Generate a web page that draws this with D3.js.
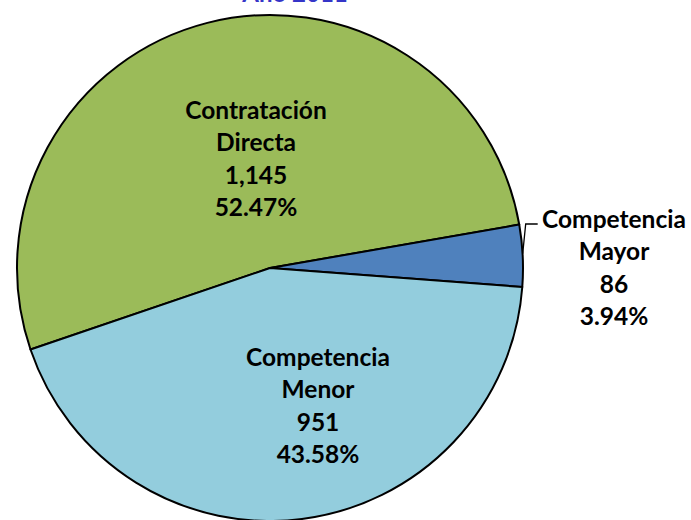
<!DOCTYPE html>
<html>
<head>
<meta charset="utf-8">
<script src="https://cdn.jsdelivr.net/npm/d3@7"></script>
<style>
  body { margin: 0; background: #fff; }
  text { font-family: Lato, "Open Sans", sans-serif; font-weight: bold; }
</style>
</head>
<body>
<div id="chart"></div>
<script>
// === DATA ===
const categories = ["Contratación Directa", "Competencia Mayor", "Competencia Menor"];
const labelLines = [["Contratación", "Directa"], ["Competencia", "Mayor"], ["Competencia", "Menor"]];
const counts = [1145, 86, 951];
const percents = ["52.47%", "3.94%", "43.58%"];
const colors = ["#9BBB59", "#4F81BD", "#93CDDD"];
const title = "Año 2011";

// === LAYOUT ===
const width = 691, height = 520;
const cx = 270, cy = 268, radius = 253;
const startDeg = 251.2; // first slice angle, clockwise from 12 o'clock

const svg = d3.select("#chart").append("svg")
    .attr("width", width)
    .attr("height", height);

svg.append("text")
    .attr("x", 295)
    .attr("y", 2)
    .attr("text-anchor", "middle")
    .attr("font-size", 24)
    .attr("fill", "#3535C8")
    .text(title);

const data = categories.map((c, i) => ({ name: c, lines: labelLines[i], value: counts[i], pct: percents[i], color: colors[i] }));

const start = startDeg * Math.PI / 180;
const pie = d3.pie()
    .value(d => d.value)
    .sort(null)
    .startAngle(start)
    .endAngle(start + 2 * Math.PI);

const arc = d3.arc().innerRadius(0).outerRadius(radius);
const arcs = pie(data);

const g = svg.append("g").attr("transform", `translate(${cx},${cy})`);

g.selectAll("path.slice")
    .data(arcs)
    .enter()
    .append("path")
    .attr("class", "slice")
    .attr("d", arc)
    .attr("fill", d => d.data.color)
    .attr("stroke", "#000")
    .attr("stroke-width", 2)
    .attr("stroke-linejoin", "round");

// label block centres relative to the pie centre
const labelPos = {
    "Contratación Directa": [-14, -109],
    "Competencia Mayor": [344, 0],
    "Competencia Menor": [48, 138]
};
const lineH = 32.5;

const labels = g.selectAll("g.label")
    .data(arcs)
    .enter()
    .append("g")
    .attr("class", "label")
    .attr("transform", d => {
        const p = labelPos[d.data.name];
        return `translate(${p[0]},${p[1]})`;
    });

labels.each(function(d) {
    const lines = d.data.lines.concat([d3.format(",")(d.data.value), d.data.pct]);
    const sel = d3.select(this);
    lines.forEach((t, i) => {
        sel.append("text")
            .attr("x", 0)
            .attr("y", (i - (lines.length - 1) / 2) * lineH)
            .attr("dy", "0.35em")
            .attr("text-anchor", "middle")
            .attr("font-size", 24.5)
            .attr("fill", "#000")
            .text(t);
    });
});

// leader line for the small slice
const small = arcs[1];
const mid = (small.startAngle + small.endAngle) / 2;
const edge = [Math.sin(mid) * radius, -Math.cos(mid) * radius];
g.append("polyline")
    .attr("points", [[edge[0], edge[1] - 2], [edge[0] + 3, -44], [edge[0] + 15, -44]].map(p => p.join(",")).join(" "))
    .attr("fill", "none")
    .attr("stroke", "#000")
    .attr("stroke-width", 1.3);
</script>
</body>
</html>
